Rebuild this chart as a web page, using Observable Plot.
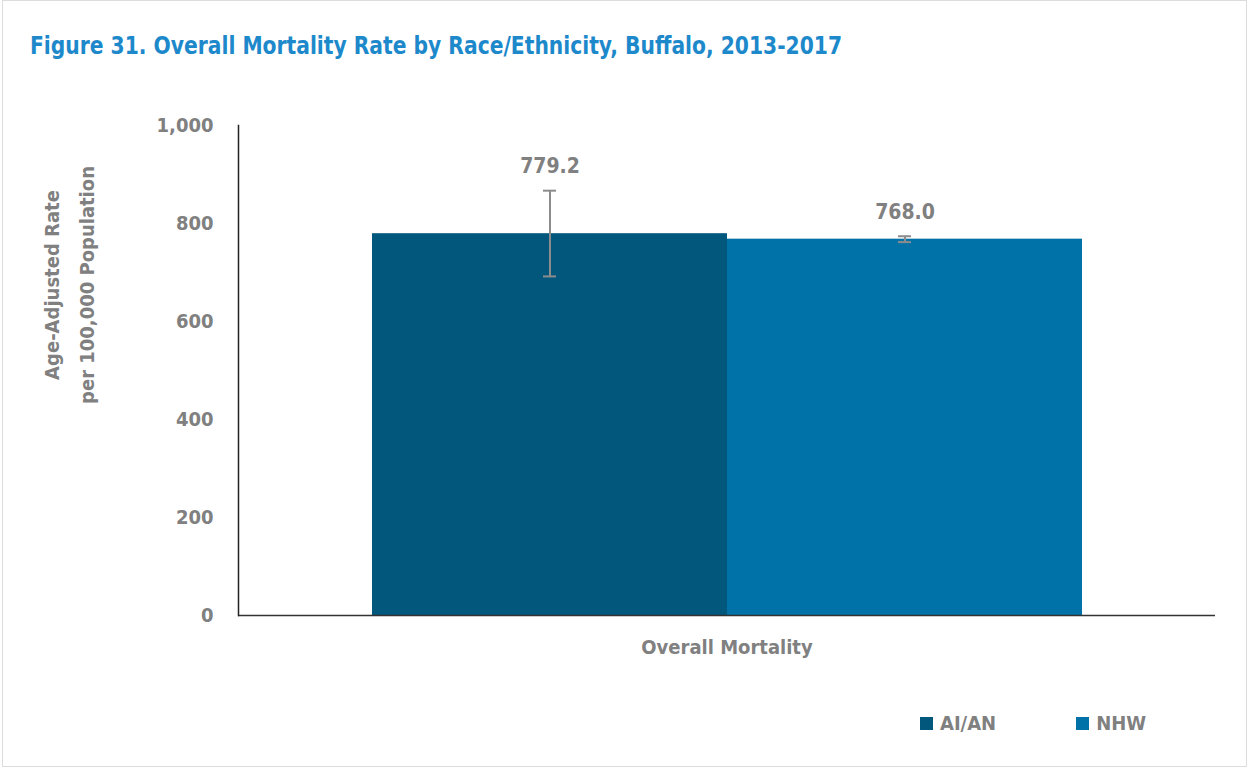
<!DOCTYPE html>
<html>
<head>
<meta charset="utf-8">
<script src="https://cdn.jsdelivr.net/npm/d3@7"></script>
<script src="https://cdn.jsdelivr.net/npm/@observablehq/plot@0.6"></script>
<style>
  html, body { margin: 0; padding: 0; background: #fff; }
  body { font-family: "Liberation Sans Narrow", "DejaVu Sans Condensed", "Liberation Sans", sans-serif; }
  #wrap { position: relative; width: 1250px; height: 770px; overflow: hidden; }
  #border { position: absolute; left: 2px; top: 0px; width: 1245px; height: 767px; border: 1px solid #dcdcdc; box-sizing: border-box; }
  #title { position: absolute; left: 30px; top: 31px; font-size: 24.5px; font-weight: bold; color: #1d89cb; white-space: nowrap; transform: scaleX(0.92); transform-origin: left top; }
  #ylabel { position: absolute; left: 70px; top: 285px; transform: translate(-50%, -50%) rotate(-90deg); font-size: 20px; font-weight: bold; color: #808080; text-align: center; white-space: nowrap; line-height: 35px; }
  #chart { position: absolute; left: 0; top: 95px; }
  #legend { position: absolute; left: 920px; top: 711px; display: flex; align-items: center; font-size: 20px; font-weight: bold; color: #808080; }
  .sw { width: 13px; height: 13px; display: inline-block; margin-right: 7px; }
  .item { display: flex; align-items: center; margin-right: 80px; }
</style>
</head>
<body>
<div id="wrap">
  <div id="border"></div>
  <div id="title">Figure 31. Overall Mortality Rate by Race/Ethnicity, Buffalo, 2013-2017</div>
  <div id="ylabel">Age-Adjusted Rate<br>per 100,000 Population</div>
  <div id="chart"></div>
  <div id="legend"></div>
</div>
<script>
const categories = ["Overall Mortality"];
const races = ["AI/AN", "NHW"];
const rates = [779.2, 768.0];
const ciLow = [692, 762];
const ciHigh = [867, 774];
const rateLabels = ["779.2", "768.0"];
const yTicks = [0, 200, 400, 600, 800, 1000];
const colors = ["#02577c", "#0072a7"];

const data = races.map((r, i) => ({
  group: categories[0], race: r, value: rates[i], lo: ciLow[i], hi: ciHigh[i], label: rateLabels[i]
}));

const gray = "#808080";
const font = "'Liberation Sans Narrow', 'DejaVu Sans Condensed', 'Liberation Sans', sans-serif";

const chart = Plot.plot({
  width: 1250,
  height: 580,
  marginTop: 30,
  marginBottom: 60,
  marginLeft: 238,
  marginRight: 35,
  style: { fontFamily: font, background: "transparent" },
  fx: { domain: categories, padding: 0, label: null },
  x: { domain: races, paddingInner: 0, paddingOuter: 0.374, axis: null },
  y: { domain: [0, 1000], label: null },
  color: { domain: races, range: colors },
  marks: [
    Plot.axisY({ ticks: yTicks, tickSize: 0, tickPadding: 25, tickFormat: d3.format(","), fontSize: 20, fontWeight: "bold", fill: gray, label: null }),
    Plot.axisFx({ anchor: "bottom", tickSize: 0, tickPadding: 24, fontSize: 20, fontWeight: "bold", fill: gray, label: null }),
    Plot.barY(data, { fx: "group", x: "race", y: "value", fill: "race" }),
    Plot.ruleX(data, { fx: "group", x: "race", y1: "lo", y2: "hi", stroke: "#8c8c8c", strokeWidth: 2 }),
    Plot.tickY(data, { fx: "group", x: "race", y: "lo", stroke: "#8c8c8c", strokeWidth: 2, insetLeft: 171, insetRight: 171 }),
    Plot.tickY(data, { fx: "group", x: "race", y: "hi", stroke: "#8c8c8c", strokeWidth: 2, insetLeft: 171, insetRight: 171 }),
    Plot.text(data, { fx: "group", x: "race", y: "hi", text: "label", dy: -24, fontSize: 21, fontWeight: "bold", fill: gray }),
    Plot.ruleY([0], { stroke: "#333", strokeWidth: 1.5 }),
    Plot.frame({ anchor: "left", stroke: "#222", strokeWidth: 1.5 })
  ]
});
document.getElementById("chart").appendChild(chart);

const legend = document.getElementById("legend");
races.forEach((r, i) => {
  const item = document.createElement("div");
  item.className = "item";
  const sw = document.createElement("span");
  sw.className = "sw";
  sw.style.background = colors[i];
  item.appendChild(sw);
  item.appendChild(document.createTextNode(r));
  legend.appendChild(item);
});
</script>
</body>
</html>
